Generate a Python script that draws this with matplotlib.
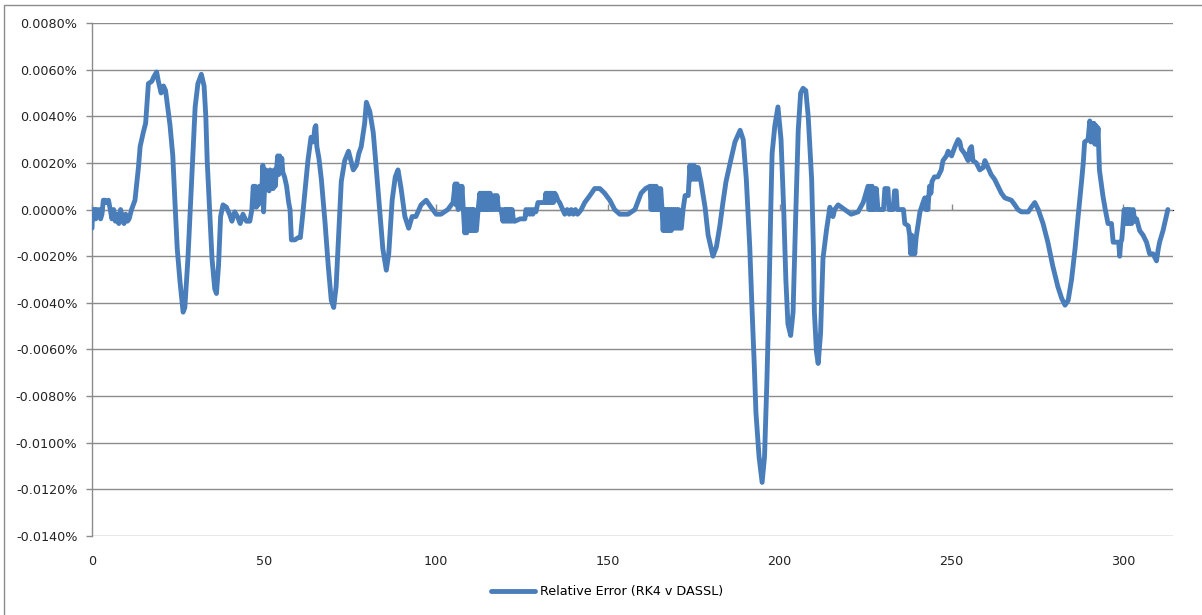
import matplotlib
matplotlib.use("Agg")
import matplotlib.pyplot as plt
from matplotlib.ticker import MultipleLocator, FuncFormatter, NullFormatter
from matplotlib.patches import Rectangle

# Relative error of the RK4 solution against DASSL, in percent
t = [
    0.0, 0.2, 0.5, 0.8, 1.1, 1.4, 1.8, 2.2, 2.5, 2.9, 3.3, 3.8, 4.2, 4.8, 5.3, 5.8, 6.3, 6.8, 7.3, 7.8,
    8.3, 8.8, 9.3, 9.8, 10.3, 10.8, 11.5, 12.5, 13.5, 14.0, 14.9, 15.6, 16.4, 17.4, 18.0, 18.8, 19.3, 20.1,
    20.8, 21.4, 22.0, 22.7, 23.5, 24.1, 24.8, 25.6, 26.5, 27.0, 27.9, 28.7, 29.4, 30.0, 30.8, 31.8, 32.6,
    33.1, 33.5, 34.2, 34.9, 35.7, 36.2, 36.8, 37.4, 38.1, 39.1, 40.0, 40.7, 41.5, 42.3, 43.1, 43.9, 44.9,
    45.9, 46.5, 46.9, 47.2, 47.5, 47.8, 48.1, 48.4, 48.7, 49.0, 49.4, 49.7, 49.9, 50.2, 50.6, 50.9, 51.2,
    51.5, 51.8, 52.1, 52.4, 52.7, 53.0, 53.3, 53.6, 54.0, 54.3, 54.6, 54.9, 55.2, 55.5, 56.0, 56.6, 57.2,
    57.6, 58.0, 59.0, 60.0, 60.6, 61.3, 62.2, 62.8, 63.7, 64.4, 64.8, 65.1, 65.4, 66.0, 66.7, 67.8, 68.7,
    69.6, 70.3, 71.0, 71.8, 72.5, 73.5, 74.6, 75.3, 76.0, 76.9, 77.6, 78.3, 79.3, 79.8, 80.3, 80.8, 81.8,
    82.6, 83.7, 84.6, 85.6, 86.3, 87.3, 88.2, 89.0, 89.9, 91.0, 92.1, 93.1, 94.2, 95.7, 97.2, 98.6, 100.1,
    101.5, 103.5, 105.0, 105.6, 105.9, 106.2, 106.5, 107.0, 107.3, 107.6, 108.0, 108.4, 108.7, 109.0,
    109.3, 109.6, 109.9, 110.2, 110.5, 110.8, 111.1, 111.4, 111.8, 112.3, 112.8, 113.1, 113.4, 113.7,
    114.0, 114.3, 114.6, 114.9, 115.2, 115.5, 115.8, 116.2, 116.6, 117.1, 117.4, 117.8, 118.2, 119.0,
    119.5, 119.8, 120.1, 120.4, 120.7, 121.0, 121.3, 121.6, 121.9, 122.2, 122.6, 123.0, 124.5, 125.9,
    126.2, 126.6, 127.0, 127.4, 127.8, 128.2, 128.6, 129.1, 129.7, 131.7, 132.0, 132.3, 132.6, 132.9,
    133.2, 133.5, 133.8, 134.2, 134.6, 135.0, 135.5, 136.0, 137.5, 138.2, 138.8, 139.4, 140.0, 140.6,
    141.2, 141.8, 142.3, 143.3, 144.8, 146.2, 147.7, 149.1, 150.6, 152.0, 153.5, 154.9, 155.9, 157.9,
    159.7, 161.0, 162.3, 162.6, 162.9, 163.2, 163.5, 163.8, 164.1, 164.4, 164.7, 165.0, 165.4, 165.8,
    166.1, 166.4, 166.7, 167.0, 167.3, 167.6, 167.9, 168.2, 168.5, 168.8, 169.1, 169.4, 169.7, 170.0,
    170.3, 170.6, 170.9, 171.4, 171.9, 172.5, 173.4, 173.9, 174.2, 174.5, 174.8, 175.1, 175.4, 175.7,
    176.0, 176.3, 176.8, 177.1, 178.3, 179.2, 180.6, 181.6, 182.6, 183.5, 184.4, 185.6, 187.0, 188.5,
    189.4, 190.3, 191.3, 192.0, 192.6, 193.1, 194.0, 194.9, 195.6, 196.3, 196.8, 197.4, 197.8, 198.6,
    199.5, 200.4, 201.2, 201.8, 202.4, 203.2, 203.9, 204.7, 205.4, 206.1, 206.8, 207.6, 208.3, 209.3,
    209.8, 210.1, 210.7, 211.2, 211.9, 212.6, 213.6, 214.6, 215.5, 216.0, 217.0, 218.9, 220.8, 222.8,
    224.3, 225.7, 226.0, 226.3, 226.6, 226.9, 227.2, 227.5, 227.8, 228.1, 228.6, 230.2, 230.6, 231.5,
    231.8, 233.0, 233.4, 233.9, 234.2, 236.0, 236.4, 237.4, 237.8, 238.1, 238.4, 238.7, 239.0, 239.3,
    239.7, 240.8, 241.7, 242.2, 242.5, 242.8, 243.1, 243.6, 244.0, 244.3, 245.0, 246.0, 247.0, 247.5,
    248.5, 249.0, 250.0, 251.0, 251.9, 252.4, 252.8, 253.8, 254.8, 255.3, 255.8, 256.2, 257.2, 258.2,
    259.2, 259.7, 260.6, 261.5, 262.5, 263.5, 264.5, 265.5, 267.4, 268.4, 269.3, 270.3, 272.3, 273.2,
    274.2, 275.2, 276.6, 278.0, 279.4, 280.9, 282.0, 283.0, 283.9, 284.9, 285.9, 286.8, 287.8, 288.3,
    288.7, 289.7, 290.2, 290.5, 290.8, 291.1, 291.4, 291.7, 292.0, 292.3, 292.6, 293.0, 294.0, 294.7,
    295.5, 296.5, 297.0, 297.9, 298.6, 298.9, 299.2, 299.5, 299.9, 300.2, 300.5, 300.8, 301.1, 301.4,
    301.7, 302.0, 302.4, 302.8, 303.3, 303.8, 304.7, 305.7, 306.7, 307.6, 308.6, 309.6, 310.1, 310.5,
    311.5, 312.9,
]

err_pct = [
    -0.0008, 0.0, -0.0004, 0.0, -0.0004, 0.0, -0.0003, 0.0, -0.0004, -0.0002, 0.0004, 0.0004, 0.0003,
    0.0004, 0.0, -0.0004, 0.0, -0.0005, -0.0002, -0.0006, 0.0, -0.0003, -0.0006, -0.0002, -0.0005,
    -0.0004, 0.0, 0.0004, 0.0018, 0.0027, 0.0033, 0.0037, 0.0054, 0.0055, 0.0057, 0.0059, 0.0055, 0.0050,
    0.0053, 0.0051, 0.0044, 0.0036, 0.0023, 0.0004, -0.0017, -0.0031, -0.0044, -0.0042, -0.0021, 0.0004,
    0.0026, 0.0044, 0.0054, 0.0058, 0.0053, 0.0040, 0.0021, 0.0, -0.0021, -0.0034, -0.0036, -0.0024,
    -0.0003, 0.0002, 0.0001, -0.0002, -0.0005, -0.0001, -0.0003, -0.0006, -0.0002, -0.0005, -0.0005,
    0.0, 0.0010, 0.0002, 0.0010, 0.0001, 0.0009, 0.0002, 0.0010, 0.0003, 0.0009, 0.0019, -0.0001, 0.0009,
    0.0017, 0.0009, 0.0016, 0.0008, 0.0017, 0.0009, 0.0016, 0.0009, 0.0017, 0.0010, 0.0016, 0.0023,
    0.0015, 0.0023, 0.0016, 0.0022, 0.0016, 0.0014, 0.0010, 0.0003, 0.0, -0.0013, -0.0013, -0.0012,
    -0.0012, -0.0002, 0.0012, 0.0021, 0.0031, 0.0029, 0.0035, 0.0036, 0.0027, 0.0022, 0.0013, -0.0006,
    -0.0024, -0.0039, -0.0042, -0.0033, -0.0009, 0.0012, 0.0021, 0.0025, 0.0021, 0.0017, 0.0019, 0.0024,
    0.0027, 0.0037, 0.0046, 0.0044, 0.0042, 0.0033, 0.0019, -0.0001, -0.0017, -0.0026, -0.0019, 0.0004,
    0.0014, 0.0017, 0.0009, -0.0003, -0.0008, -0.0003, -0.0003, 0.0002, 0.0004, 0.0001, -0.0002, -0.0002,
    0.0, 0.0003, 0.0011, 0.0002, 0.0011, 0.0, 0.0010, 0.0001, 0.0010, 0.0, -0.0010, 0.0, -0.0010, 0.0,
    -0.0009, 0.0, -0.0009, 0.0, -0.0009, 0.0, -0.0009, -0.0009, 0.0, 0.0007, 0.0, 0.0007, 0.0, 0.0007,
    0.0, 0.0007, 0.0, 0.0007, 0.0, 0.0007, 0.0, 0.0, 0.0006, 0.0, 0.0006, 0.0, 0.0, -0.0005, 0.0, -0.0005,
    0.0, -0.0005, 0.0, -0.0005, 0.0, -0.0005, 0.0, -0.0005, -0.0005, -0.0004, -0.0004, 0.0, -0.0002, 0.0,
    -0.0002, 0.0, -0.0002, 0.0, -0.0001, 0.0003, 0.0003, 0.0007, 0.0003, 0.0007, 0.0003, 0.0007, 0.0003,
    0.0007, 0.0003, 0.0007, 0.0006, 0.0004, 0.0003, -0.0002, 0.0, -0.0002, 0.0, -0.0002, 0.0, -0.0002,
    -0.0001, 0.0, 0.0003, 0.0006, 0.0009, 0.0009, 0.0007, 0.0004, 0.0, -0.0002, -0.0002, -0.0002, 0.0,
    0.0007, 0.0009, 0.0010, 0.0, 0.0010, 0.0, 0.0010, 0.0, 0.0010, 0.0, 0.0009, 0.0, 0.0009, 0.0,
    -0.0009, 0.0, -0.0009, 0.0, -0.0009, 0.0, -0.0009, 0.0, -0.0009, 0.0, -0.0008, 0.0, -0.0008, 0.0,
    -0.0008, 0.0, -0.0008, -0.0008, 0.0, 0.0006, 0.0006, 0.0019, 0.0013, 0.0019, 0.0013, 0.0019, 0.0013,
    0.0018, 0.0013, 0.0018, 0.0014, 0.0012, 0.0001, -0.0011, -0.0020, -0.0016, -0.0007, 0.0003, 0.0012,
    0.0020, 0.0029, 0.0034, 0.0030, 0.0013, -0.0016, -0.0044, -0.0066, -0.0087, -0.0106, -0.0117,
    -0.0106, -0.0073, -0.0044, -0.0001, 0.0024, 0.0036, 0.0044, 0.0030, -0.0001, -0.0030, -0.0049,
    -0.0054, -0.0044, -0.0001, 0.0034, 0.0050, 0.0052, 0.0051, 0.0040, 0.0013, -0.0016, -0.0044, -0.0061,
    -0.0066, -0.0053, -0.0021, -0.0009, 0.0001, -0.0003, 0.0, 0.0002, 0.0, -0.0002, -0.0001, 0.0003,
    0.0010, 0.0, 0.0010, 0.0, 0.0010, 0.0, 0.0009, 0.0, 0.0009, 0.0, 0.0, 0.0009, 0.0009, 0.0, 0.0, 0.0008,
    0.0008, 0.0, 0.0, -0.0006, -0.0007, -0.0011, -0.0019, -0.0011, -0.0019, -0.0012, -0.0019, -0.0012,
    -0.0001, 0.0003, 0.0005, 0.0, 0.0005, 0.0, 0.0010, 0.0007, 0.0012, 0.0014, 0.0014, 0.0017, 0.0021,
    0.0023, 0.0025, 0.0023, 0.0027, 0.0030, 0.0029, 0.0026, 0.0024, 0.0021, 0.0026, 0.0027, 0.0021,
    0.0020, 0.0017, 0.0018, 0.0021, 0.0018, 0.0015, 0.0013, 0.0010, 0.0007, 0.0005, 0.0004, 0.0002, 0.0,
    -0.0001, -0.0001, 0.0001, 0.0003, 0.0, -0.0006, -0.0014, -0.0024, -0.0033, -0.0038, -0.0041, -0.0039,
    -0.0030, -0.0017, -0.0003, 0.0012, 0.0020, 0.0029, 0.0030, 0.0038, 0.0029, 0.0037, 0.0029, 0.0037,
    0.0028, 0.0036, 0.0028, 0.0035, 0.0017, 0.0006, 0.0, -0.0006, -0.0006, -0.0014, -0.0014, -0.0014,
    -0.0020, -0.0014, -0.0013, -0.0006, 0.0, -0.0006, 0.0, -0.0006, 0.0, -0.0006, 0.0, -0.0006, 0.0,
    -0.0005, -0.0004, -0.0009, -0.0011, -0.0014, -0.0019, -0.0019, -0.0022, -0.0017, -0.0014, -0.0009,
    0.0,
]

series_label = "Relative Error (RK4 v DASSL)"
x_ticks = [0, 50, 100, 150, 200, 250, 300]

line_color = "#4A7EBB"
grid_color = "#8C8C8C"

W, H = 1202, 615
fig = plt.figure(figsize=(W / 100, H / 100), dpi=100)
fig.patch.set_facecolor("white")

# chart-area border
fig.add_artist(Rectangle((4 / W, -0.05), 1.2, 1 - 5 / H + 0.05, transform=fig.transFigure,
                         fill=False, edgecolor="#8C8C8C", linewidth=1.0))

left, right = 92 / W, 1173 / W
top, bottom = 1 - 23 / H, 1 - 536 / H
ax = fig.add_axes([left, bottom, right - left, top - bottom])

ax.plot(t, err_pct, color=line_color, linewidth=3.5, solid_joinstyle="round",
        solid_capstyle="round", label=series_label, zorder=3)

ax.set_xlim(0, 314.4)
ax.set_ylim(-0.014, 0.008)
ax.yaxis.set_major_locator(MultipleLocator(0.002))
ax.yaxis.set_major_formatter(FuncFormatter(lambda v, p: f"{v:.4f}%"))
ax.set_xticks(x_ticks)

ax.grid(axis="y", color=grid_color, linewidth=1.0)
ax.set_axisbelow(True)
for side in ("top", "right", "bottom"):
    ax.spines[side].set_visible(False)
ax.spines["left"].set_color(grid_color)
ax.spines["left"].set_linewidth(1.0)

ax.tick_params(axis="y", direction="out", length=4, width=1, color=grid_color,
               pad=6.5, labelsize=9.2, labelcolor="#222222")
ax.tick_params(axis="x", length=0, pad=14, labelsize=9.2, labelcolor="#222222")

# horizontal axis line through zero with its tick marks (labels stay at the bottom)
zero_pos = (0 - (-0.014)) / (0.008 - (-0.014))
sec = ax.secondary_xaxis(zero_pos)
sec.set_xticks(x_ticks)
sec.xaxis.set_major_formatter(NullFormatter())
sec.tick_params(axis="x", direction="out", length=4, width=1, color=grid_color)
sec.spines["bottom"].set_color(grid_color)
sec.spines["bottom"].set_linewidth(1.0)

fig.legend(loc="center", bbox_to_anchor=(0.505, 1 - 592 / H), frameon=False,
           fontsize=9.2, handlelength=3.5, handletextpad=0.4)

fig.savefig("out.png", dpi=100, facecolor="white")
